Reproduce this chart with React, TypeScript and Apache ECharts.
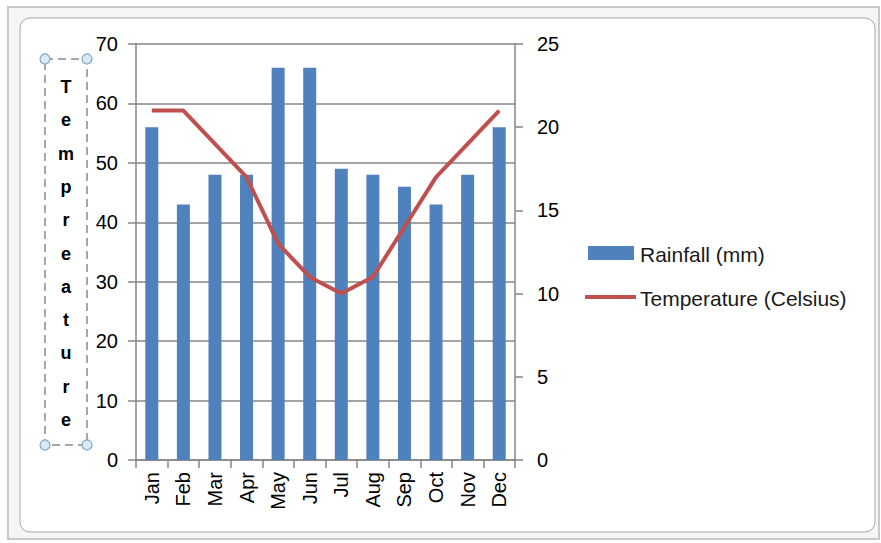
import React, { useEffect, useRef } from "react";
import * as echarts from "echarts";

const months = ["Jan", "Feb", "Mar", "Apr", "May", "Jun", "Jul", "Aug", "Sep", "Oct", "Nov", "Dec"];
const rainfall = [56, 43, 48, 48, 66, 66, 49, 48, 46, 43, 48, 56];
const temperature = [21, 21, 19, 17, 13, 11, 10, 11, 14, 17, 19, 21];
const boxLetters = ["T", "e", "m", "p", "r", "e", "a", "t", "u", "r", "e"];
const seriesNames = ["Rainfall (mm)", "Temperature (Celsius)"];

const FONT = "Liberation Sans";
const AXIS = "#868686";
const BAR = "#4f81bd";
const LINE = "#c0504d";

export default function App() {
  const ref = useRef<HTMLDivElement>(null);
  useEffect(() => {
    if (!ref.current) return;
    const chart = echarts.init(ref.current, null, { renderer: "svg" });
    const handle = (x: number, y: number) => ({
      type: "circle",
      shape: { cx: x, cy: y, r: 5 },
      style: { fill: "#dbe9f4", stroke: "#7fa7c6", lineWidth: 1.2 },
      z: 20,
    });
    const legendText = (text: string, y: number) => ({
      type: "text",
      x: 640,
      y,
      style: {
        text,
        fontFamily: FONT,
        fontSize: 21,
        fill: "#1a1a1a",
        align: "left",
        verticalAlign: "middle",
      },
      z: 20,
    });
    chart.setOption({
      animation: false,
      backgroundColor: "#ffffff",
      textStyle: { fontFamily: FONT },
      grid: { left: 136, right: 366, top: 44, bottom: 83, containLabel: false },
      xAxis: {
        type: "category",
        data: months,
        boundaryGap: true,
        axisLine: { show: true, lineStyle: { color: AXIS, width: 1.5 } },
        axisTick: { show: true, length: 8, alignWithLabel: false, lineStyle: { color: AXIS, width: 1.5 } },
        axisLabel: { rotate: 90, margin: 12, fontSize: 20, color: "#000", fontFamily: FONT, interval: 0 },
        splitLine: { show: false },
      },
      yAxis: [
        {
          type: "value",
          min: 0,
          max: 70,
          interval: 10,
          axisLine: { show: true, lineStyle: { color: AXIS, width: 1.5 } },
          axisTick: { show: true, length: 8, lineStyle: { color: AXIS, width: 1.5 } },
          axisLabel: { margin: 18, fontSize: 20, color: "#000", fontFamily: FONT },
          splitLine: { show: true, lineStyle: { color: AXIS, width: 1.5 } },
        },
        {
          type: "value",
          min: 0,
          max: 25,
          interval: 5,
          position: "right",
          axisLine: { show: true, lineStyle: { color: AXIS, width: 1.5 } },
          axisTick: { show: true, length: 8, lineStyle: { color: AXIS, width: 1.5 } },
          axisLabel: { margin: 22, fontSize: 20, color: "#000", fontFamily: FONT },
          splitLine: { show: false },
        },
      ],
      series: [
        {
          name: seriesNames[0],
          type: "bar",
          data: rainfall,
          barWidth: 13,
          itemStyle: { color: BAR },
          yAxisIndex: 0,
          z: 2,
        },
        {
          name: seriesNames[1],
          type: "line",
          data: temperature,
          yAxisIndex: 1,
          symbol: "none",
          lineStyle: { color: LINE, width: 4 },
          itemStyle: { color: LINE },
          z: 3,
        },
      ],
      graphic: [
        {
          type: "rect",
          shape: { x: 8, y: 7, width: 871, height: 532 },
          style: { fill: "#f5f5f5", stroke: "#c9c9c9", lineWidth: 2 },
          z: -10,
          silent: true,
        },
        {
          type: "rect",
          shape: { x: 20, y: 18, width: 855, height: 514, r: 10 },
          style: { fill: "#ffffff", stroke: "#a8a8a8", lineWidth: 1 },
          z: -9,
          silent: true,
        },
        {
          type: "rect",
          shape: { x: 45, y: 59, width: 42, height: 386 },
          style: { fill: "none", stroke: "#8a8a8a", lineWidth: 1.5, lineDash: [8, 5] },
          z: 19,
        },
        handle(45, 59),
        handle(87, 59),
        handle(45, 445),
        handle(87, 445),
        ...boxLetters.map((ch, i) => ({
          type: "text",
          x: 66,
          y: 87 + i * 33.3,
          style: {
            text: ch,
            fontFamily: FONT,
            fontSize: 18,
            fontWeight: "bold",
            fill: "#000",
            align: "center",
            verticalAlign: "middle",
          },
          z: 20,
        })),
        {
          type: "rect",
          shape: { x: 588, y: 246, width: 46, height: 14 },
          style: { fill: BAR },
          z: 20,
        },
        legendText(seriesNames[0], 254),
        {
          type: "line",
          shape: { x1: 585, y1: 297, x2: 636, y2: 297 },
          style: { stroke: LINE, lineWidth: 4 },
          z: 20,
        },
        legendText(seriesNames[1], 298),
      ],
    });
    return () => chart.dispose();
  }, []);
  return (
    <div
      ref={ref}
      style={{ position: "fixed", left: 0, top: 0, width: 881, height: 543 }}
    />
  );
}
